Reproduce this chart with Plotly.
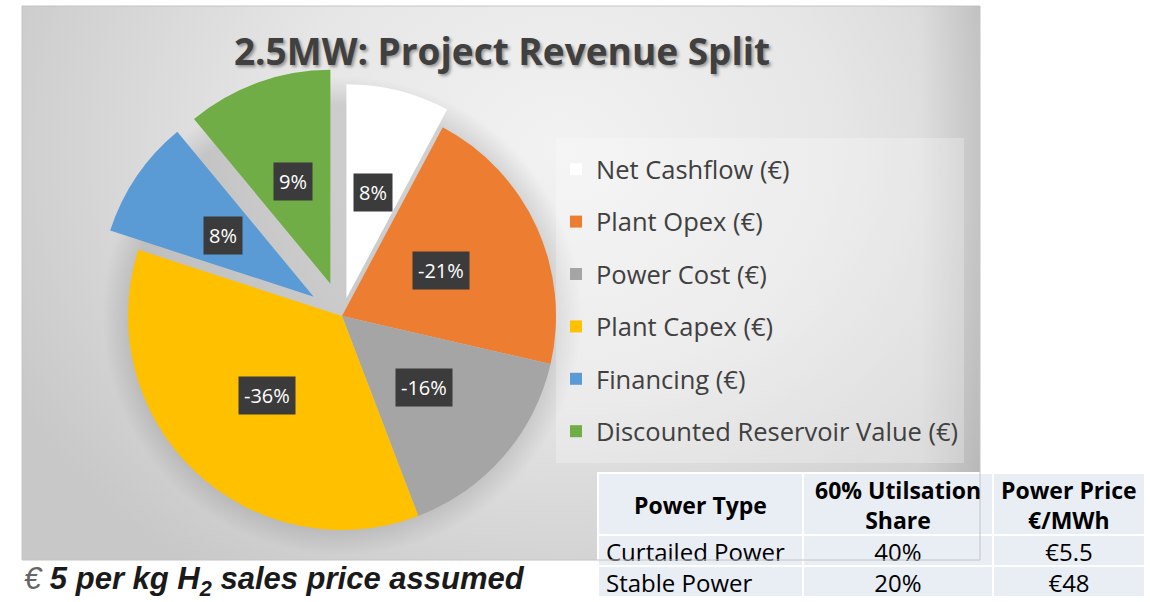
import numpy as np
import plotly.graph_objects as go

# ---------------- data ----------------
categories = ["Net Cashflow (€)", "Plant Opex (€)", "Power Cost (€)",
              "Plant Capex (€)", "Financing (€)", "Discounted Reservoir Value (€)"]
slice_share = [7.8, 20.8, 15.6, 35.8, 9.0, 11.0]          # slice sizes
slice_labels = ["8%", "-21%", "-16%", "-36%", "8%", "9%"]  # labels printed on the slices
slice_colors = ["#ffffff", "#ed7d31", "#a5a5a5", "#ffc000", "#5b9bd5", "#70ad47"]
slice_pull = [0.085, 0, 0, 0, 0.16, 0.16]

table_header = ["Power Type", "60% Utilsation<br>Share", "Power Price<br>€/MWh"]
power_type = ["Curtailed Power", "Stable Power"]
utilisation_share = ["40%", "20%"]
power_price = ["€5.5", "€48"]

title_text = "2.5MW: Project Revenue Split"
footnote = "€ 5 per kg H<sub>2</sub> sales price assumed"

FONT = "Open Sans"

# ---------------- geometry ----------------
W, H = 1150, 602
PX0, PX1, PY0, PY1 = 22, 980, 6, 560          # chart panel (pixels)
cx, cy, R = 342, 316, 214                      # pie centre / radius (pixels)
half = R * (1 + max(slice_pull))

fig = go.Figure()

# panel background (radial gradient, clipped to panel axes)
gcx, gcy, ga, gb = 560, 150, 620, 520
fig.add_trace(go.Scatter(
    x=[gcx - ga, gcx + ga, gcx + ga, gcx - ga, gcx - ga],
    y=[gcy - gb, gcy - gb, gcy + gb, gcy + gb, gcy - gb],
    mode="lines", line=dict(width=0), fill="toself",
    fillgradient=dict(type="radial",
                      colorscale=[[0, "#f2f2f2"], [0.45, "#e6e6e6"], [1, "#c8c8c8"]]),
    hoverinfo="skip", showlegend=False))
# right-edge darkening
fig.add_trace(go.Scatter(
    x=[920, PX1, PX1, 920, 920], y=[PY0, PY0, PY1, PY1, PY0],
    mode="lines", line=dict(width=0), fill="toself",
    fillgradient=dict(type="horizontal",
                      colorscale=[[0, "rgba(0,0,0,0)"], [1, "rgba(0,0,0,0.10)"]]),
    hoverinfo="skip", showlegend=False))
# soft pie shadow
th = np.linspace(0, 2 * np.pi, 240)
Rs = R * 1.12
fig.add_trace(go.Scatter(
    x=cx + Rs * np.cos(th), y=cy + Rs * np.sin(th),
    mode="lines", line=dict(width=0), fill="toself",
    fillgradient=dict(type="radial",
                      colorscale=[[0, "rgba(0,0,0,0.12)"], [0.88, "rgba(0,0,0,0.12)"],
                                  [1, "rgba(0,0,0,0)"]]),
    hoverinfo="skip", showlegend=False))

# pie (legend labels carry their own text size; legend font size sets row pitch)
legend_text = ["<span style='font-size:25.5px;baseline-shift:5px'>%s</span>" % c
               for c in categories]
fig.add_trace(go.Pie(
    labels=legend_text, values=slice_share, sort=False, direction="clockwise",
    rotation=0, pull=slice_pull, textinfo="none", hoverinfo="skip",
    marker=dict(colors=slice_colors, line=dict(width=0)),
    domain=dict(x=[(cx - half) / W, (cx + half) / W],
                y=[1 - (cy + half) / H, 1 - (cy - half) / H]),
))

# slice labels in dark boxes
vals = np.array(slice_share, dtype=float)
frac = vals / vals.sum()
mid = (np.cumsum(frac) - frac / 2) * 2 * np.pi
annotations = []
for lab, m, p in zip(slice_labels, mid, slice_pull):
    rl = (0.51 + p) * R
    x = cx + rl * np.sin(m)
    y = cy - rl * np.cos(m)
    annotations.append(dict(
        x=x / W, y=1 - y / H, xref="paper", yref="paper", text=lab, showarrow=False,
        font=dict(family=FONT, size=20, color="white"), bgcolor="#3b3b3b",
        borderpad=5, xanchor="center", yanchor="middle"))

# footnote
annotations.append(dict(
    x=PX0 / W, y=1 - 581 / H, xref="paper", yref="paper", xanchor="left", yanchor="middle",
    text="<span style='color:#666666;font-weight:normal'>€</span>" + footnote[1:],
    showarrow=False,
    font=dict(family="Liberation Sans", size=31, color="#1a1a1a", style="italic",
              weight="bold")))

# table (header text placed as centred text over the header row)
TX0, TX1, TY0, TY1 = 598, 1145, 473, 597
colw = [205, 190, 152]
hdr_h, row_h = 62, 31
fig.add_trace(go.Table(
    domain=dict(x=[TX0 / W, TX1 / W], y=[1 - TY1 / H, 1 - TY0 / H]),
    columnwidth=colw,
    header=dict(values=["", "", ""],
                fill_color="#e9edf4", line=dict(color="white", width=2),
                align="center", height=hdr_h,
                font=dict(family=FONT, size=22, color="black")),
    cells=dict(values=[power_type, utilisation_share, power_price],
               fill_color="#e9edf4", line=dict(color="white", width=2),
               align=["left", "center", "center"], height=row_h,
               font=dict(family=FONT, size=24, color="black")),
))
edges = np.concatenate([[0], np.cumsum(colw)]) / sum(colw)
for i, h in enumerate(table_header):
    xc = TX0 + (TX1 - TX0) * (edges[i] + edges[i + 1]) / 2
    annotations.append(dict(
        x=xc / W, y=1 - (TY0 + hdr_h / 2 + 1) / H, xref="paper", yref="paper",
        xanchor="center", yanchor="middle", showarrow=False, align="center",
        text="<b>" + h + "</b>", font=dict(family=FONT, size=23, color="black")))

fig.update_layout(
    width=W, height=H, margin=dict(l=0, r=0, t=0, b=0),
    paper_bgcolor="white", plot_bgcolor="rgba(0,0,0,0)",
    xaxis=dict(domain=[PX0 / W, PX1 / W], range=[PX0, PX1], visible=False, fixedrange=True),
    yaxis=dict(domain=[1 - PY1 / H, 1 - PY0 / H], range=[PY1, PY0], visible=False,
               fixedrange=True),
    title=dict(text=title_text, x=502 / W, xanchor="center", y=1 - 52 / H, yanchor="middle",
               font=dict(family=FONT, size=37, color="#404040", weight="bold",
                         shadow="2px 2px 3px rgba(0,0,0,0.35)")),
    legend=dict(x=556 / W, y=1 - 138 / H, xanchor="left", yanchor="top",
                bgcolor="rgba(255,255,255,0.25)",
                font=dict(family=FONT, size=38, color="#404040")),
    annotations=annotations,
    shapes=[dict(type="rect", xref="paper", yref="paper", x0=PX0 / W, x1=PX1 / W,
                 y0=1 - PY1 / H, y1=1 - PY0 / H, line=dict(color="#c4c4c4", width=1))],
)

fig.write_html("out.html", config={"displayModeBar": False},
               post_script="document.body.style.margin='0px';")
